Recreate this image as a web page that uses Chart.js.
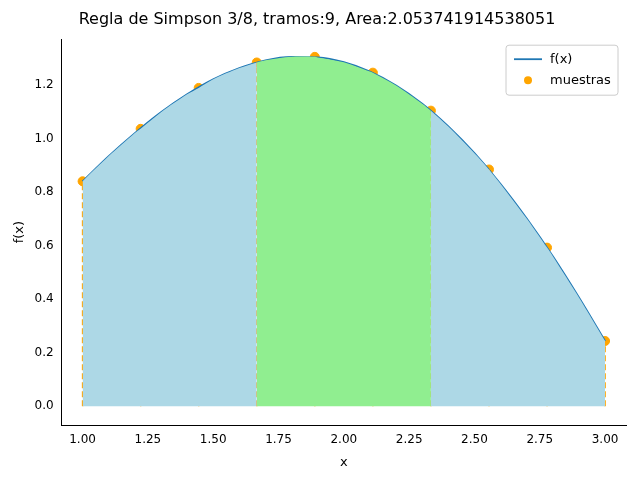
<!DOCTYPE html>
<html><head><script src="https://cdn.jsdelivr.net/npm/chart.js"></script>
<style>body{margin:0;background:#fff}#w{width:640px;height:480px}</style></head>
<body><div id="w"><canvas id="c"></canvas></div>
<script>
const curveX=[1.0,1.1,1.2,1.3,1.4,1.5,1.6,1.7,1.8,1.9,2.0,2.1,2.2,2.3,2.4,2.5,2.6,2.7,2.8,2.9,3.0];
const curveY=[0.841,0.935,1.021,1.099,1.166,1.222,1.264,1.293,1.306,1.304,1.286,1.251,1.199,1.131,1.046,0.946,0.831,0.702,0.561,0.407,0.244];
const sampleX=[1.0,1.2222,1.4444,1.6667,1.8889,2.1111,2.3333,2.5556,2.7778,3.0];
const sampleY=[0.841,1.037,1.19,1.285,1.306,1.247,1.105,0.885,0.593,0.244];
const dashedIdx=[0,3,6,9];
const xTicks=[1.0,1.25,1.5,1.75,2.0,2.25,2.5,2.75,3.0];
const yTicks=[0,0.2,0.4,0.6,0.8,1.0,1.2];

const all=curveX.map((x,i)=>({x,y:curveY[i]})).concat(sampleX.map((x,i)=>({x,y:sampleY[i]})))
 .sort((a,b)=>a.x-b.x).filter((p,i,a)=>i==0||Math.abs(p.x-a[i-1].x)>0.005);
const seg=(a,b)=>all.filter(p=>p.x>=a-0.001&&p.x<=b+0.001);
const fillDs=(a,b,col)=>({data:seg(a,b),fill:'origin',backgroundColor:col,borderWidth:0,pointRadius:0,tension:0.3});
const ds=[fillDs(sampleX[0],sampleX[3],'#add8e6'),fillDs(sampleX[3],sampleX[6],'#90ee90'),fillDs(sampleX[6],sampleX[9],'#add8e6')];
sampleX.forEach((x,i)=>ds.push({data:[{x,y:0},{x,y:sampleY[i]}],borderColor:'orange',borderWidth:1.5,
 borderDash:dashedIdx.includes(i)?[6,3]:[2,3],pointRadius:0,fill:false}));
ds.push({data:curveX.map((x,i)=>({x,y:curveY[i]})),borderColor:'#1f77b4',borderWidth:1.8,pointRadius:0,fill:false,tension:0.4,cubicInterpolationMode:'monotone'});
ds.push({data:sampleX.map((x,i)=>({x,y:sampleY[i]})),showLine:false,pointRadius:4.5,pointBackgroundColor:'orange',pointBorderColor:'orange'});

const legendPlugin={id:'lg',afterDraw(ch){const c=ch.ctx,a=ch.chartArea;const w=112,h=50,x=a.right-8-w,y=a.top+6;
 c.save();c.fillStyle='rgba(255,255,255,0.85)';c.strokeStyle='#ccc';c.lineWidth=1;c.beginPath();c.roundRect(x,y,w,h,3);c.fill();c.stroke();
 c.strokeStyle='#1f77b4';c.lineWidth=1.8;c.beginPath();c.moveTo(x+8,y+14);c.lineTo(x+36,y+14);c.stroke();
 c.fillStyle='orange';c.beginPath();c.arc(x+22,y+35,4,0,7);c.fill();
 c.fillStyle='#000';c.font='13px "DejaVu Sans"';c.textBaseline='middle';c.fillText('f(x)',x+44,y+14);c.fillText('muestras',x+44,y+35);c.restore();}};

new Chart(document.getElementById('c'),{type:'line',data:{datasets:ds},plugins:[legendPlugin],
options:{responsive:true,maintainAspectRatio:false,animation:false,
 layout:{padding:{left:8,right:14,top:4,bottom:6}},
 plugins:{legend:{display:false},tooltip:{enabled:false},title:{display:true,text:'Regla de Simpson 3/8, tramos:9, Area:2.053741914538051',color:'#000',font:{family:'DejaVu Sans',size:16,weight:'normal'},padding:{top:6,bottom:10}}},
 scales:{x:{type:'linear',min:0.92,max:3.08,afterBuildTicks:s=>{s.ticks=xTicks.map(v=>({value:v}))},
   ticks:{callback:v=>v.toFixed(2),color:'#000',font:{family:'DejaVu Sans',size:12},maxRotation:0},
   grid:{display:false,drawTicks:true,tickLength:5,color:'#000'},border:{color:'#000'},
   title:{display:true,text:'x',color:'#000',font:{family:'DejaVu Sans',size:13}}},
  y:{min:-0.07,max:1.372,afterBuildTicks:s=>{s.ticks=yTicks.map(v=>({value:v}))},
   ticks:{callback:v=>v.toFixed(1),color:'#000',font:{family:'DejaVu Sans',size:12}},
   grid:{display:false,tickLength:5,color:'#000'},border:{color:'#000'},
   title:{display:true,text:'f(x)',color:'#000',font:{family:'DejaVu Sans',size:13}}}}}});
</script></body></html>
